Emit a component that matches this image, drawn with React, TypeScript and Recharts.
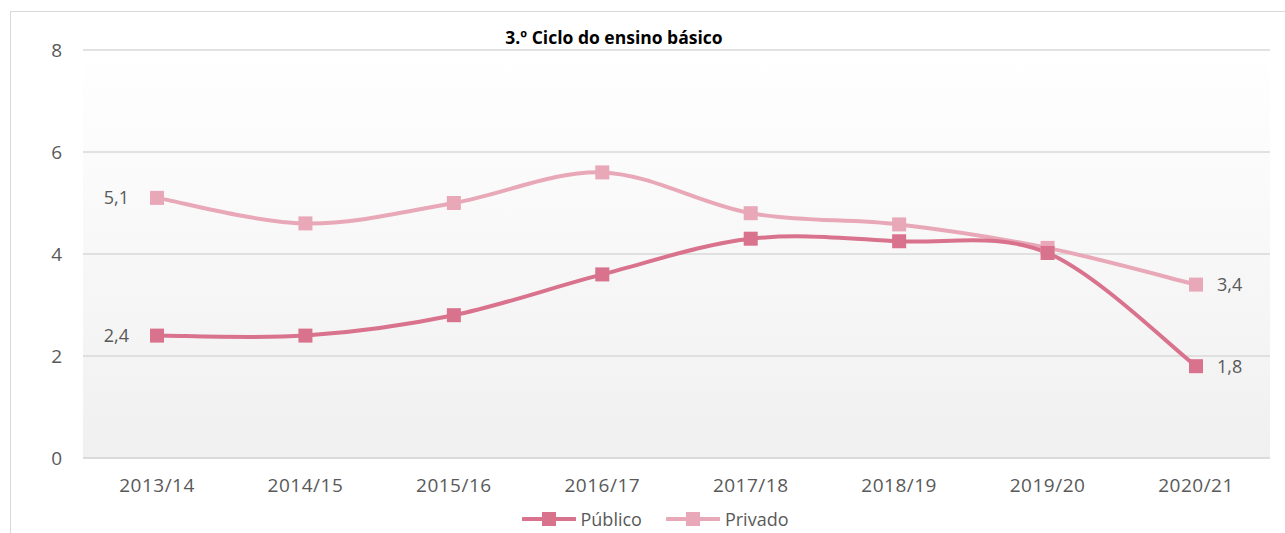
import { CartesianGrid, Legend, Line, LineChart, XAxis, YAxis } from "recharts";

const categories = ["2013/14", "2014/15", "2015/16", "2016/17", "2017/18", "2018/19", "2019/20", "2020/21"];
const publico = [2.4, 2.4, 2.8, 3.6, 4.3, 4.25, 4.02, 1.8];
const privado = [5.1, 4.6, 5.0, 5.6, 4.8, 4.58, 4.12, 3.4];
const yTicks = [0, 2, 4, 6, 8];
const title = "3.º Ciclo do ensino básico";

const COLORS = { publico: "#d9728c", privado: "#e8a8b8" };
const FONT = "'Open Sans', sans-serif";
const TEXT = "#595959";

const data = categories.map((label, i) => ({ label, publico: publico[i], privado: privado[i] }));

const series = [
  { key: "publico", name: "Público", color: COLORS.publico },
  { key: "privado", name: "Privado", color: COLORS.privado },
];

// Excel-style smoothing (cardinal spline, tension 0)
const excelCurve = (context: any) => {
  let pts: number[][] = [];
  return {
    areaStart() {},
    areaEnd() {},
    lineStart() {
      pts = [];
    },
    point(x: number, y: number) {
      pts.push([+x, +y]);
    },
    lineEnd() {
      const n = pts.length;
      if (!n) return;
      context.moveTo(pts[0][0], pts[0][1]);
      for (let i = 0; i < n - 1; i++) {
        const p0 = pts[i - 1] || pts[i];
        const p1 = pts[i];
        const p2 = pts[i + 1];
        const p3 = pts[i + 2] || p2;
        context.bezierCurveTo(
          p1[0] + (p2[0] - p0[0]) / 6,
          p1[1] + (p2[1] - p0[1]) / 6,
          p2[0] - (p3[0] - p1[0]) / 6,
          p2[1] - (p3[1] - p1[1]) / 6,
          p2[0],
          p2[1]
        );
      }
    },
  };
};

const squareDot = (color: string) => (p: any) => (
  <rect key={`d-${p.index}`} x={p.cx - 7} y={p.cy - 7} width={14} height={14} fill={color} />
);

const endLabel = (p: any) => {
  const last = categories.length - 1;
  if (p.index !== 0 && p.index !== last) return null;
  const txt = String(p.value).replace(".", ",");
  const left = p.index === 0;
  return (
    <text
      key={`l-${p.index}`}
      x={left ? p.x - 28 : p.x + 21}
      y={p.y}
      dy="0.35em"
      textAnchor={left ? "end" : "start"}
      fill={TEXT}
      fontSize={18}
      fontFamily={FONT}
    >
      {txt}
    </text>
  );
};

function LegendContent() {
  return (
    <div
      style={{
        display: "flex",
        justifyContent: "center",
        gap: 24,
        paddingLeft: 14,
        fontFamily: FONT,
        fontSize: 18,
        color: TEXT,
      }}
    >
      {series.map((s) => (
        <div key={s.key} style={{ display: "flex", alignItems: "center", gap: 5 }}>
          <svg width={54} height={16}>
            <line x1={1} x2={53} y1={8} y2={8} stroke={s.color} strokeWidth={4} strokeLinecap="round" />
            <rect x={20} y={1} width={14} height={14} fill={s.color} />
          </svg>
          <span>{s.name}</span>
        </div>
      ))}
    </div>
  );
}

export default function App() {
  return (
    <div
      style={{
        position: "absolute",
        left: 10,
        top: 11,
        width: 1275,
        height: 522,
        borderLeft: "1px solid #d9d9d9",
        borderTop: "1px solid #d9d9d9",
        boxSizing: "border-box",
        background: "#fff",
        overflow: "hidden",
      }}
    >
      <div
        style={{
          position: "absolute",
          left: 0,
          width: 1206,
          top: 13,
          textAlign: "center",
          fontFamily: FONT,
          fontWeight: 700,
          fontSize: 17.5,
          color: "#000",
          zIndex: 2,
        }}
      >
        {title}
      </div>
      <LineChart width={1274} height={521} data={data} margin={{ top: 38, right: 15, left: 0, bottom: 0 }}>
        <defs>
          <linearGradient id="plotBg" x1="0" y1="0" x2="0" y2="1">
            <stop offset="0%" stopColor="#ffffff" />
            <stop offset="100%" stopColor="#f0f0f0" />
          </linearGradient>
        </defs>
        <CartesianGrid vertical={false} stroke="#d9d9d9" strokeWidth={1.5} fill="url(#plotBg)" fillOpacity={1} />
        <XAxis
          dataKey="label"
          height={75}
          padding={{ left: 74, right: 74 }}
          tickLine={false}
          tickMargin={15}
          axisLine={{ stroke: "#d9d9d9", strokeWidth: 1.5 }}
          tick={{ fill: TEXT, fontSize: 19, fontFamily: FONT, letterSpacing: 0.5 }}
        />
        <YAxis
          width={72}
          domain={[0, 8]}
          ticks={yTicks}
          tickLine={false}
          axisLine={false}
          tickMargin={15}
          tick={{ fill: TEXT, fontSize: 19, fontFamily: FONT }}
        />
        <Legend
          layout="horizontal"
          verticalAlign="middle"
          content={<LegendContent />}
          wrapperStyle={{ position: "absolute", top: 495, left: 0, width: 1274 }}
        />
        <Line
          dataKey="privado"
          name="Privado"
          type={excelCurve as any}
          stroke={COLORS.privado}
          strokeWidth={4}
          dot={squareDot(COLORS.privado)}
          activeDot={false}
          label={endLabel}
          isAnimationActive={false}
        />
        <Line
          dataKey="publico"
          name="Público"
          type={excelCurve as any}
          stroke={COLORS.publico}
          strokeWidth={4}
          dot={squareDot(COLORS.publico)}
          activeDot={false}
          label={endLabel}
          isAnimationActive={false}
        />
      </LineChart>
    </div>
  );
}
